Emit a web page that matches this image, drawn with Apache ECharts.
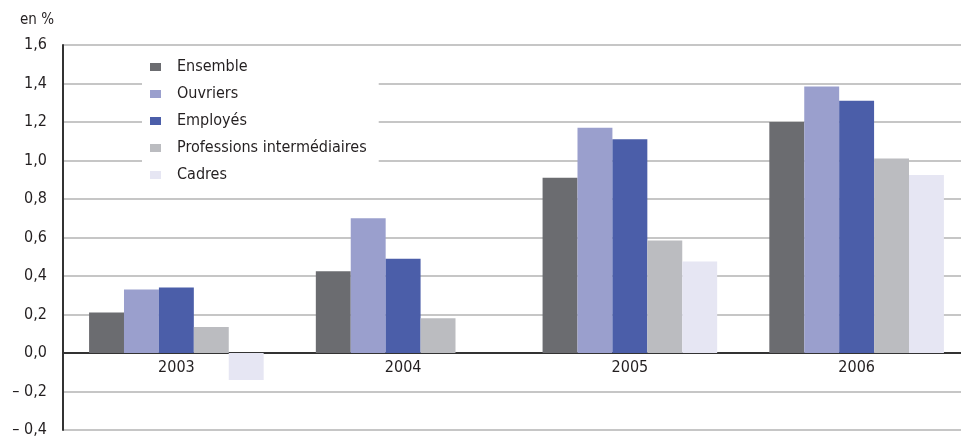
<!DOCTYPE html>
<html>
<head>
<meta charset="utf-8">
<script src="https://cdn.jsdelivr.net/npm/echarts@6/dist/echarts.min.js"></script>
<style>
  html, body { margin: 0; padding: 0; background: #fff; }
  #main { width: 961px; height: 437px; }
</style>
</head>
<body>
<div id="main"></div>
<script>
  // données
  var years = ['2003', '2004', '2005', '2006']
  var ensemble = [0.21, 0.425, 0.91, 1.20]
  var ouvriers = [0.33, 0.70, 1.17, 1.385]
  var employes = [0.34, 0.49, 1.11, 1.31]
  var professions = [0.135, 0.18, 0.585, 1.01]
  var cadres = [-0.14, 0, 0.475, 0.925]

  var font = "'DejaVu Sans Condensed', 'Liberation Sans Narrow', sans-serif"
  var textColor = '#231f20'

  function fmt (v) {
    var s = Math.abs(v).toFixed(1).replace('.', ',')
    return v < 0 ? '\u2013 ' + s : s
  }

  function bar (name, data, color) {
    return {
      name: name,
      type: 'bar',
      data: data,
      barGap: '0%',
      barCategoryGap: '23%',
      itemStyle: { color: color },
      emphasis: { disabled: true }
    }
  }

  var myChart = echarts.init(document.getElementById('main'))
  myChart.setOption({
    animation: false,
    textStyle: { fontFamily: font },
    graphic: [{
      type: 'text',
      left: 20,
      top: 13,
      style: { text: 'en %', fontFamily: font, fontSize: 15, fill: textColor }
    }],
    legend: {
      orient: 'vertical',
      left: 142,
      top: 52,
      padding: [6, 12, 3, 8],
      backgroundColor: '#fff',
      itemWidth: 11,
      itemHeight: 8,
      itemGap: 9,
      icon: 'rect',
      textStyle: { fontFamily: font, fontSize: 16, color: textColor, padding: [0, 0, 0, 11], lineHeight: 18 },
      data: ['Ensemble', 'Ouvriers', 'Employés', 'Professions intermédiaires', 'Cadres']
    },
    grid: { left: 63, right: -9, top: 45, bottom: 7, outerBoundsMode: 'none' },
    xAxis: {
      type: 'category',
      data: years,
      offset: -77,
      axisLine: { onZero: false, lineStyle: { color: '#333', width: 2 } },
      axisTick: { show: false },
      axisLabel: { fontFamily: font, fontSize: 16, color: textColor, margin: 7 },
      splitLine: { show: false }
    },
    yAxis: {
      type: 'value',
      min: -0.4,
      max: 1.6,
      interval: 0.2,
      axisLine: { show: true, lineStyle: { color: '#333', width: 2 } },
      axisTick: { show: false },
      axisLabel: { fontFamily: font, fontSize: 16, color: textColor, margin: 16, formatter: fmt },
      splitLine: { lineStyle: { color: '#b3b3b3', width: 1.5 } }
    },
    series: [
      bar('Ensemble', ensemble, '#6b6c70'),
      bar('Ouvriers', ouvriers, '#9a9fcd'),
      bar('Employés', employes, '#4b5ea9'),
      bar('Professions intermédiaires', professions, '#bbbcc0'),
      bar('Cadres', cadres, '#e6e6f3')
    ]
  })
</script>
</body>
</html>
